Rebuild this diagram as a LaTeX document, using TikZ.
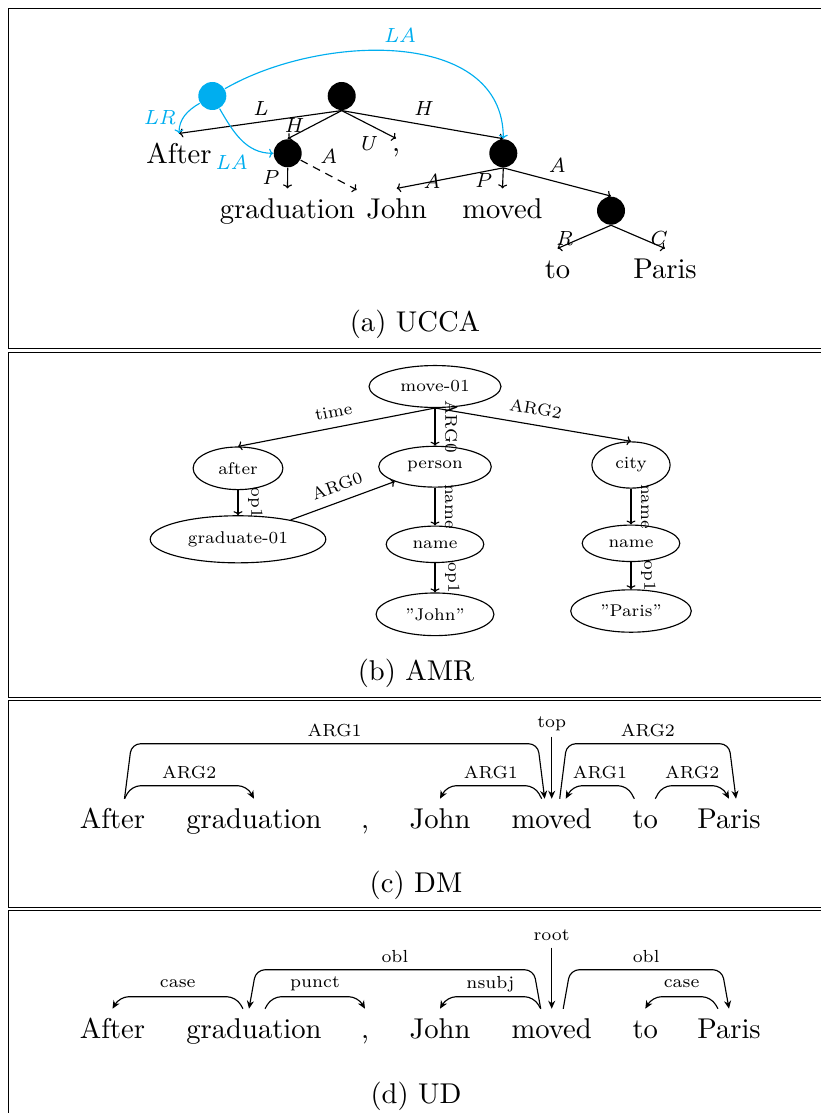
\documentclass[tikz,border=0pt]{standalone}
\usepackage{fontspec}
\setmainfont{lmroman10-regular.otf}[ItalicFont=lmroman10-italic.otf]
\newfontfamily\sevenrm{lmroman7-regular.otf}[ItalicFont=lmroman7-italic.otf]
\usetikzlibrary{arrows.meta,calc,shapes.geometric}
\definecolor{ucblue}{RGB}{0,174,239}
\newcommand\wfont{\fontsize{28.6}{34}\selectfont}
\newcommand\lfont{\sevenrm\fontsize{17}{21}\selectfont}
\newcommand\ufont{\sevenrm\fontsize{20.5}{24}\selectfont}
\newcommand\dfont{\sevenrm\fontsize{17.5}{21}\selectfont}
\begin{document}
\begin{tikzpicture}[x=1pt,y=-1pt,line width=1.14pt,
  arr/.style={-{To[length=4pt,width=9pt]}},
  word/.style={font=\wfont,anchor=base,text height=20pt,text depth=6pt,inner xsep=9pt,inner ysep=9pt},
  pword/.style={font=\wfont,anchor=base,inner xsep=9pt,inner ysep=9pt},
  unode/.style={circle,fill=black,minimum size=28pt,inner sep=0pt},
  bnode/.style={unode,fill=ucblue},
  ulab/.style={font=\ufont\itshape,inner sep=0pt},
  blab/.style={ulab,text=ucblue},
  amr/.style={ellipse,draw,font=\lfont,inner xsep=12pt,inner ysep=9pt},
  alab/.style={font=\lfont,sloped,above,midway,inner sep=9.5pt},
  dep/.style={rounded corners=9pt,-{Stealth[length=8pt,width=7pt,inset=2.5pt]},
    to path={-- ($(\tikztostart)!7pt!(\tikztotarget)+(0,-#1)$) -- ($(\tikztotarget)!7pt!(\tikztostart)+(0,-#1)$) \tikztonodes -- (\tikztotarget)}},
  depv/.style={-{Stealth[length=8pt,width=7pt,inset=2.5pt]}},
  dlab/.style={font=\dfont,midway,yshift=13pt,inner sep=0pt},
  captext/.style={font=\wfont,anchor=base},
  frame/.style={draw,line width=1.1pt}
]
\useasboundingbox (0,0) rectangle (821,1113);
\clip (0,0) rectangle (821,1113);

% frames
\draw[frame] (8.5,8.5) rectangle (850,348.5);
\draw[frame] (8.5,352.5) rectangle (850,697.5);
\draw[frame] (8.5,700.5) rectangle (850,907.5);
\draw[frame] (8.5,910.5) rectangle (850,1140);

% ---------------- (a) UCCA ----------------
\node[bnode] (blue) at (212.3,96) {};
\node[unode] (root) at (341.7,96) {};
\node[unode] (hn) at (287.7,153.3) {};
\node[unode] (mn) at (503.3,153.3) {};
\node[unode] (pn) at (611,210.7) {};
\node[word] (aAfter) at (179,163) {After};
\node[pword] (aComma) at (396,151) {,};
\node[word] (aGrad) at (287.5,218) {graduation};
\node[word] (aJohn) at (396.7,218) {John};
\node[word] (aMoved) at (502.5,218) {moved};
\node[word] (aTo) at (557.5,278) {to};
\node[word] (aParis) at (665,278) {Paris};

\draw[arr] (root.south) -- (aAfter.north) node[ulab,pos=0.5,yshift=14pt]{L};
\draw[arr] (root.south) -- (hn.north) node[ulab,pos=0.9,yshift=10pt]{H};
\draw[arr] (root.south) -- (aComma.north) node[ulab,pos=0.46,yshift=-20pt]{U};
\draw[arr] (root.south) -- (mn.north) node[ulab,pos=0.5,yshift=16pt]{H};
\draw[arr] (hn.south) -- (aGrad.north) node[ulab,pos=0.45,xshift=-17.5pt]{P};
\draw[arr,dash pattern=on 8pt off 6pt] (hn) -- (aJohn) node[ulab,pos=0.5,yshift=19pt]{A};
\draw[arr] (mn.south) -- (aJohn.north) node[ulab,pos=0.67]{A};
\draw[arr] (mn.south) -- (aMoved.north) node[ulab,pos=0.6,xshift=-20pt]{P};
\draw[arr] (mn.south) -- (pn.north) node[ulab,pos=0.5,yshift=17pt]{A};
\draw[arr] (pn.south) -- (aTo.north) node[ulab,pos=0.87,yshift=7pt]{R};
\draw[arr] (pn.south) -- (aParis.north) node[ulab,pos=0.85,yshift=6pt]{C};

\draw[arr,ucblue] (blue) to[out=210,in=90] node[blab,pos=0.5,xshift=-25pt,yshift=-2pt]{LR} (aAfter.north);
\draw[arr,ucblue] (blue) to[out=-60,in=180] node[blab,pos=0.5,xshift=-9.6pt,yshift=-22pt]{LA} (hn.west);
\draw[arr,ucblue] (blue) to[out=30,in=90] node[blab,pos=0.5,yshift=16pt]{LA} (mn.north);

\node[captext] (capA) at (415,331) {(a) UCCA};

% ---------------- (b) AMR ----------------
\node[amr] (move) at (435,386.5) {move-01};
\node[amr] (after) at (238,468.3) {after};
\node[amr] (person) at (435,466.7) {person};
\node[amr] (grad) at (238,539.3) {graduate-01};
\node[amr] (name1) at (435,544.3) {name};
\node[amr] (john) at (435,614.3) {”John”};
\node[amr] (city) at (631,465) {city};
\node[amr] (name2) at (631,543.3) {name};
\node[amr] (paris) at (631,611) {”Paris”};

\draw[arr] (move.south) -- node[alab]{time} (after.north);
\draw[arr] (move.south) -- node[alab]{ARG0} (person.north);
\draw[arr] (move.south) -- node[alab]{ARG2} (city.north);
\draw[arr] (after.south) -- node[alab]{op1} (grad.north);
\draw[arr] (grad) -- node[alab]{ARG0} (person);
\draw[arr] (person.south) -- node[alab]{name} (name1.north);
\draw[arr] (name1.south) -- node[alab]{op1} (john.north);
\draw[arr] (city.south) -- node[alab]{name} (name2.north);
\draw[arr] (name2.south) -- node[alab]{op1} (paris.north);

\node[captext] (capB) at (416,680) {(b) AMR};

% ---------------- (c) DM ----------------
\node[word] (cAfter) at (112.5,828.3) {After};
\node[word] (cGrad) at (254,828.3) {graduation};
\node[word] (cComma) at (365,828.3) {,};
\node[word] (cJohn) at (440,828.3) {John};
\node[word] (cMoved) at (551.7,828.3) {moved};
\node[word] (cTo) at (645.3,828.3) {to};
\node[word] (cParis) at (729,828.3) {Paris};

\coordinate (cA0) at ([xshift=12pt]cAfter.north);
\coordinate (cM0) at ([xshift=-7pt]cMoved.north);
\coordinate (cM1) at ([xshift=-10pt]cMoved.north);
\coordinate (cM2) at ([xshift=8pt]cMoved.north);
\coordinate (cM3) at ([xshift=14pt]cMoved.north);
\coordinate (cT0) at ([xshift=-11pt]cTo.north);
\coordinate (cT1) at ([xshift=10pt]cTo.north);
\coordinate (cP0) at ([xshift=7pt]cParis.north);
\coordinate (ctop) at ([yshift=62pt]cMoved.north);

\draw[dep=13] (cA0) to node[dlab]{ARG2} (cGrad.north);
\draw[dep=55] (cA0) to node[dlab]{ARG1} (cM0);
\draw[depv] (ctop) node[font=\dfont,yshift=13pt,inner sep=0pt]{top} -- (cMoved.north);
\draw[dep=13] (cM1) to node[dlab]{ARG1} (cJohn.north);
\draw[dep=55] (cM2) to node[dlab]{ARG2} (cP0);
\draw[dep=13] (cT0) to node[dlab]{ARG1} (cM3);
\draw[dep=13] (cT1) to node[dlab]{ARG2} (cParis.north);

\node[captext] (capC) at (416,892) {(c) DM};

% ---------------- (d) UD ----------------
\node[word] (dAfter) at (112.5,1038.3) {After};
\node[word] (dGrad) at (254,1038.3) {graduation};
\node[word] (dComma) at (365,1038.3) {,};
\node[word] (dJohn) at (440,1038.3) {John};
\node[word] (dMoved) at (551.7,1038.3) {moved};
\node[word] (dTo) at (645.3,1038.3) {to};
\node[word] (dParis) at (729,1038.3) {Paris};

\coordinate (dG0) at ([xshift=-11pt]dGrad.north);
\coordinate (dG1) at ([xshift=11pt]dGrad.north);
\coordinate (dG2) at ([xshift=-5pt]dGrad.north);
\coordinate (dM0) at ([xshift=-11pt]dMoved.north);
\coordinate (dM1) at ([xshift=11.5pt]dMoved.north);
\coordinate (dP0) at ([xshift=-11pt]dParis.north);
\coordinate (droot) at ([yshift=61pt]dMoved.north);

\draw[dep=12] (dG0) to node[dlab]{case} (dAfter.north);
\draw[dep=12] (dG1) to node[dlab]{punct} (dComma.north);
\draw[dep=39] (dM0) to node[dlab]{obl} (dG2);
\draw[dep=12] (dM0) to node[dlab]{nsubj} (dJohn.north);
\draw[depv] (droot) node[font=\dfont,yshift=13pt,inner sep=0pt]{root} -- (dMoved.north);
\draw[dep=39] (dM1) to node[dlab]{obl} (dParis.north);
\draw[dep=12] (dP0) to node[dlab]{case} (dTo.north);

\node[captext] (capD) at (416,1103) {(d) UD};
\end{tikzpicture}
\end{document}
